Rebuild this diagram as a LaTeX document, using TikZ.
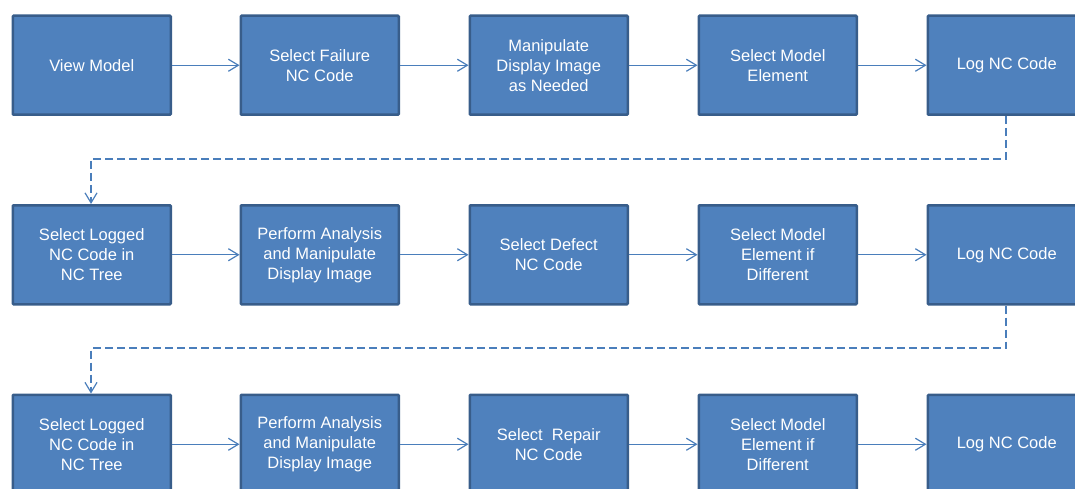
\documentclass[tikz,border=0pt]{standalone}
\usepackage{fontspec}
\setmainfont{Liberation Sans}
\usetikzlibrary{arrows.meta}
\definecolor{boxfill}{HTML}{4F81BD}
\definecolor{boxline}{HTML}{385D8A}
\definecolor{arr}{HTML}{4A7EBB}
\begin{document}
\begin{tikzpicture}[x=1pt,y=-1pt,
  stepbox/.style={draw=boxline,line width=2.5pt,fill=boxfill,rounded corners=1pt,
    minimum width=158pt,minimum height=99pt,inner sep=0pt,text=white,align=center,
    font=\fontsize{16.5}{20}\selectfont,anchor=north west},
  flow/.style={draw=arr,line width=1.2pt,-{Straight Barb[length=10pt,width=12pt,line width=1.2pt]}},
  link/.style={flow,dash pattern=on 8pt off 4pt}]
\useasboundingbox (0,0) rectangle (1075,489);
\clip (0,0) rectangle (1075,489);
% row 1
\node[stepbox] (a1) at (11.5,14.5) {View Model};
\node[stepbox] (a2) at (239.5,14.5) {Select Failure\\NC Code};
\node[stepbox] (a3) at (468.5,14.5) {Manipulate\\Display Image\\as Needed};
\node[stepbox] (a4) at (697.5,14.5) {Select Model\\Element};
\node[stepbox] (a5) at (926.5,14.5) {Log NC Code};
% row 2
\node[stepbox] (b1) at (11.5,204) {Select Logged\\NC Code in\\NC Tree};
\node[stepbox] (b2) at (239.5,204) {Perform Analysis\\and Manipulate\\Display Image};
\node[stepbox] (b3) at (468.5,204) {Select Defect\\NC Code};
\node[stepbox] (b4) at (697.5,204) {Select Model\\Element if\\Different};
\node[stepbox] (b5) at (926.5,204) {Log NC Code};
% row 3
\node[stepbox] (c1) at (11.5,393.5) {Select Logged\\NC Code in\\NC Tree};
\node[stepbox] (c2) at (239.5,393.5) {Perform Analysis\\and Manipulate\\Display Image};
\node[stepbox] (c3) at (468.5,393.5) {Select\ \ Repair\\NC Code};
\node[stepbox] (c4) at (697.5,393.5) {Select Model\\Element if\\Different};
\node[stepbox] (c5) at (926.5,393.5) {Log NC Code};
% arrows
\foreach \r in {a,b,c}{
  \draw[flow] (\r1.east) -- (\r2.west);
  \draw[flow] (\r2.east) -- (\r3.west);
  \draw[flow] (\r3.east) -- (\r4.west);
  \draw[flow] (\r4.east) -- (\r5.west);
}
\coordinate (k1) at (1006,159);
\coordinate (k2) at (91,159);
\coordinate (k3) at (1006,348);
\coordinate (k4) at (91,348);
\draw[link] (a5.south -| k1) -- (k1) -- (k2) -- (k2 |- b1.north);
\draw[link] (b5.south -| k3) -- (k3) -- (k4) -- (k4 |- c1.north);
\end{tikzpicture}
\end{document}
